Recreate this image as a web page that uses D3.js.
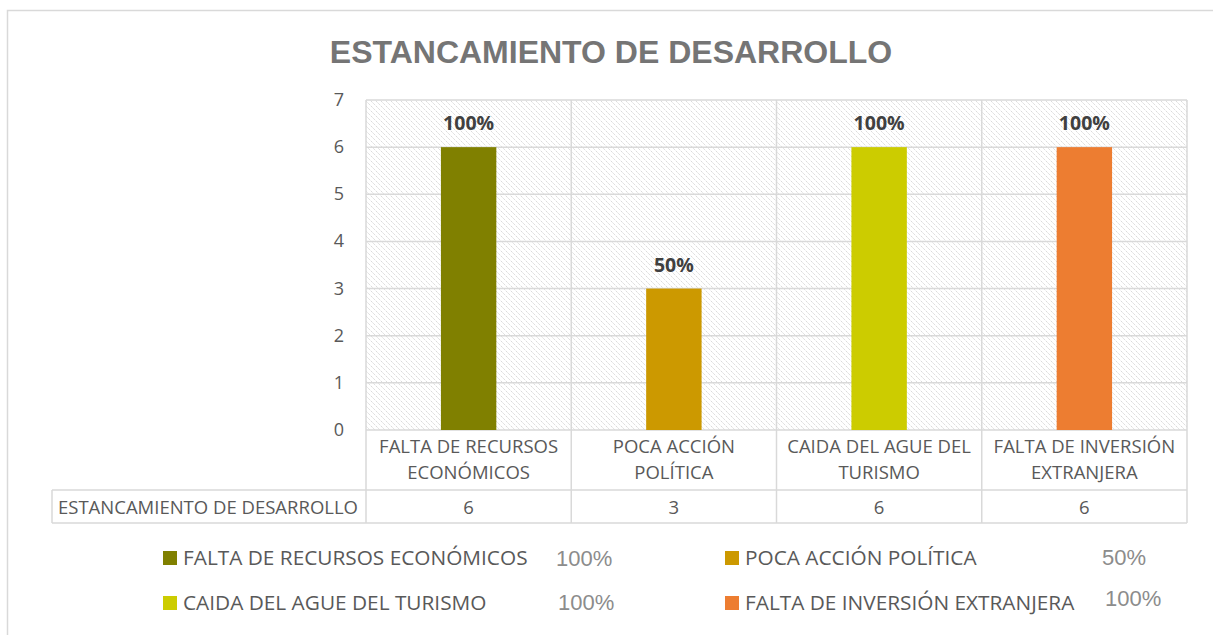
<!DOCTYPE html>
<html>
<head>
<meta charset="utf-8">
<script src="https://cdn.jsdelivr.net/npm/d3@7"></script>
<style>
	body { margin: 0; background: #fff; }
	svg { display: block; }
</style>
</head>
<body>
<svg id="chart"></svg>
<script>
const width = 1213;
const height = 635;

// data
const categories = [
	['FALTA DE RECURSOS', 'ECONÓMICOS'],
	['POCA ACCIÓN', 'POLÍTICA'],
	['CAIDA DEL AGUE DEL', 'TURISMO'],
	['FALTA DE INVERSIÓN', 'EXTRANJERA']
];
const legendNames = ['FALTA DE RECURSOS ECONÓMICOS', 'POCA ACCIÓN POLÍTICA', 'CAIDA DEL AGUE DEL TURISMO', 'FALTA DE INVERSIÓN EXTRANJERA'];
const values = [6, 3, 6, 6];
const pctLabels = ['100%', '50%', '100%', '100%'];
const colors = ['#808000', '#cc9900', '#cccc00', '#ed7d31'];
const yTicks = [0, 1, 2, 3, 4, 5, 6, 7];
const seriesName = 'ESTANCAMIENTO DE DESARROLLO';

const bodyFont = '"Open Sans", "Noto Sans", sans-serif';
const arialFont = '"Liberation Sans", Arial, sans-serif';
const grid = '#d9d9d9';

const svg = d3.select('#chart')
	.attr('width', width)
	.attr('height', height);

// outer frame (only top + left visible)
svg.append('rect')
	.attr('x', 7.5).attr('y', 10.5)
	.attr('width', width).attr('height', height)
	.attr('fill', 'none')
	.attr('stroke', grid)
	.attr('stroke-width', 1.5);

// hatch pattern for plot background
const defs = svg.append('defs');
const pat = defs.append('pattern')
	.attr('id', 'hatch')
	.attr('patternUnits', 'userSpaceOnUse')
	.attr('width', 5).attr('height', 5);
pat.append('path')
	.attr('d', 'M-1,-1 L6,6 M-1,4 L1,6 M4,-1 L6,1')
	.attr('stroke', '#d2d2d2')
	.attr('stroke-width', 1)
	.attr('stroke-dasharray', '1.5,1');

// title
svg.append('text')
	.attr('x', 611).attr('y', 63)
	.attr('text-anchor', 'middle')
	.attr('font-family', arialFont)
	.attr('font-weight', 'bold')
	.attr('font-size', 32)
	.attr('fill', '#757575')
	.text(seriesName);

// scales
const x = d3.scaleBand()
	.domain(d3.range(categories.length))
	.range([366, 1187])
	.paddingInner(0)
	.paddingOuter(0);
const y = d3.scaleLinear()
	.domain([0, 7])
	.range([430, 100]);

const bw = x.bandwidth();
const barW = bw * 0.27;

// plot background
svg.append('rect')
	.attr('x', x.range()[0]).attr('y', y(7))
	.attr('width', x.range()[1] - x.range()[0])
	.attr('height', y(0) - y(7))
	.attr('fill', 'url(#hatch)');

// horizontal gridlines
svg.append('g')
	.selectAll('line')
	.data(yTicks)
	.join('line')
	.attr('x1', x.range()[0]).attr('x2', x.range()[1])
	.attr('y1', d => y(d)).attr('y2', d => y(d))
	.attr('stroke', grid)
	.attr('stroke-width', 1.5);

// vertical grid / table lines
const rowSplit = 490;
const tableBottom = 523;
const vx = d3.range(categories.length + 1).map(i => i < categories.length ? x(i) : x.range()[1]);
svg.append('g')
	.selectAll('line')
	.data(vx)
	.join('line')
	.attr('x1', d => d).attr('x2', d => d)
	.attr('y1', y(7)).attr('y2', tableBottom)
	.attr('stroke', grid)
	.attr('stroke-width', 1.5);

// table horizontal lines
for (let ly of [rowSplit, tableBottom]) {
	svg.append('line')
		.attr('x1', 52).attr('x2', x.range()[1])
		.attr('y1', ly).attr('y2', ly)
		.attr('stroke', grid).attr('stroke-width', 1.5);
}
svg.append('line')
	.attr('x1', 52).attr('x2', 52)
	.attr('y1', rowSplit).attr('y2', tableBottom)
	.attr('stroke', grid).attr('stroke-width', 1.5);

// y axis labels
svg.append('g')
	.selectAll('text')
	.data(yTicks)
	.join('text')
	.attr('x', 344)
	.attr('y', d => y(d) + 6)
	.attr('text-anchor', 'end')
	.attr('font-family', bodyFont)
	.attr('font-size', 18)
	.attr('fill', '#595959')
	.text(d => d);

// bars
svg.append('g')
	.selectAll('rect')
	.data(values)
	.join('rect')
	.attr('x', (d, i) => x(i) + (bw - barW) / 2)
	.attr('y', d => y(d))
	.attr('width', barW)
	.attr('height', d => y(0) - y(d))
	.attr('fill', (d, i) => colors[i]);

// data labels
svg.append('g')
	.selectAll('text')
	.data(values)
	.join('text')
	.attr('x', (d, i) => x(i) + bw / 2)
	.attr('y', d => y(d) - 17)
	.attr('text-anchor', 'middle')
	.attr('font-family', bodyFont)
	.attr('font-weight', 'bold')
	.attr('font-size', 19.5)
	.attr('fill', '#404040')
	.text((d, i) => pctLabels[i]);

// category labels (two lines)
const catG = svg.append('g')
	.selectAll('text')
	.data(categories)
	.join('text')
	.attr('text-anchor', 'middle')
	.attr('font-family', bodyFont)
	.attr('font-size', 18.5)
	.attr('fill', '#595959');
catG.selectAll('tspan')
	.data((d, i) => d.map(t => ({ t, i })))
	.join('tspan')
	.attr('x', d => x(d.i) + bw / 2)
	.attr('y', (d, j) => 453 + j * 26)
	.text(d => d.t);

// table row
svg.append('text')
	.attr('x', 58).attr('y', 514)
	.attr('font-family', bodyFont)
	.attr('font-size', 18.5)
	.attr('fill', '#595959')
	.text(seriesName);
svg.append('g')
	.selectAll('text')
	.data(values)
	.join('text')
	.attr('x', (d, i) => x(i) + bw / 2)
	.attr('y', 514)
	.attr('text-anchor', 'middle')
	.attr('font-family', bodyFont)
	.attr('font-size', 18.5)
	.attr('fill', '#595959')
	.text(d => d);

// legend
const legPos = [
	{ sx: 163, sy: 551, px: 556, py: 566 },
	{ sx: 725, sy: 551, px: 1102, py: 565 },
	{ sx: 163, sy: 596, px: 558, py: 610 },
	{ sx: 725, sy: 596, px: 1105, py: 606 }
];
const leg = svg.append('g')
	.selectAll('g')
	.data(legendNames)
	.join('g');
leg.append('rect')
	.attr('x', (d, i) => legPos[i].sx)
	.attr('y', (d, i) => legPos[i].sy)
	.attr('width', 14).attr('height', 14)
	.attr('fill', (d, i) => colors[i]);
leg.append('text')
	.attr('x', (d, i) => legPos[i].sx + 20)
	.attr('y', (d, i) => legPos[i].sy + 14)
	.attr('font-family', bodyFont)
	.attr('font-size', 20.8)
	.attr('fill', '#595959')
	.text(d => d);
leg.append('text')
	.attr('x', (d, i) => legPos[i].px)
	.attr('y', (d, i) => legPos[i].py)
	.attr('font-family', arialFont)
	.attr('font-size', 22)
	.attr('fill', '#8c8c8c')
	.text((d, i) => pctLabels[i]);
</script>
</body>
</html>
